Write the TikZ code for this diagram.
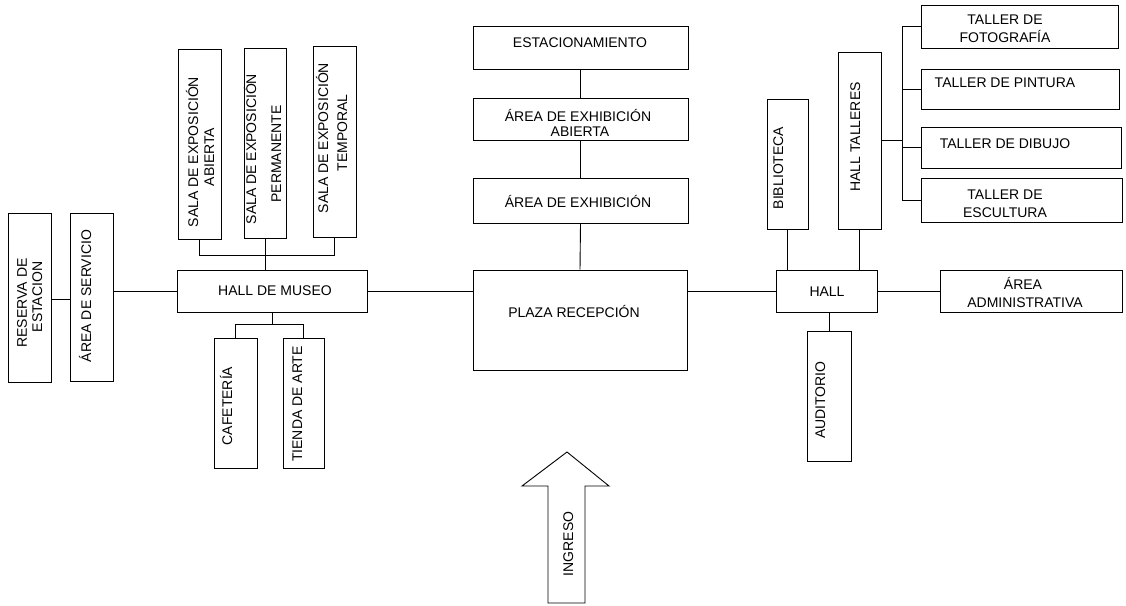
\documentclass[tikz,border=0pt]{standalone}
\usepackage{fontspec}
\setmainfont{Liberation Sans}
\begin{document}
\begin{tikzpicture}[x=1pt,y=-1pt,
  line width=0.9pt,
  box/.style={draw,rectangle,inner sep=0pt,line width=0.9pt},
  txt/.style={inner sep=0pt,text height=10pt,text depth=0pt,font=\fontsize{14}{16}\selectfont},
  vtxt/.style={txt,rotate=90}]
\useasboundingbox (0,0) rectangle (1126,605);
% boxes
\node[box,minimum width=43pt,minimum height=169pt] (res) at (29.5,297.5) {};
\node[box,minimum width=43pt,minimum height=168pt] (serv) at (91.5,297) {};
\node[box,minimum width=43pt,minimum height=190pt] (sala1) at (199.5,144) {};
\node[box,minimum width=42pt,minimum height=190pt] (sala2) at (265,143) {};
\node[box,minimum width=43pt,minimum height=191pt] (sala3) at (334.5,141.5) {};
\node[box,minimum width=190pt,minimum height=42pt] (hmus) at (272,291) {};
\node[box,minimum width=43pt,minimum height=130pt] (caf) at (235.5,403) {};
\node[box,minimum width=41pt,minimum height=130pt] (tie) at (303.5,403) {};
\node[box,minimum width=215pt,minimum height=43pt] (est) at (580.5,47.5) {};
\node[box,minimum width=215pt,minimum height=42pt] (aea) at (580.5,119) {};
\node[box,minimum width=215pt,minimum height=45pt] (ae) at (580.5,200.5) {};
\node[box,minimum width=214pt,minimum height=100pt] (plaza) at (580,320) {};
\node[box,minimum width=101pt,minimum height=42pt] (hall) at (826.5,291) {};
\node[box,minimum width=182pt,minimum height=42pt] (adm) at (1031,291) {};
\node[box,minimum width=44pt,minimum height=130pt] (aud) at (829,396) {};
\node[box,minimum width=41pt,minimum height=130pt] (bib) at (787.5,164) {};
\node[box,minimum width=43pt,minimum height=177pt] (ht) at (859.5,140.5) {};
\node[box,minimum width=197pt,minimum height=43pt] (t1) at (1019.5,26.5) {};
\node[box,minimum width=198pt,minimum height=40pt] (t2) at (1020,89) {};
\node[box,minimum width=200pt,minimum height=41pt] (t3) at (1021,147.5) {};
\node[box,minimum width=201pt,minimum height=44pt] (t4) at (1021.5,200) {};
% texts
\node[vtxt] (lres1) at (22,303) {RESERVA DE};
\node[vtxt] (lres2) at (37,297) {ESTACION};
\node[vtxt] (lserv) at (86,296) {ÁREA DE SERVICIO};
\node[vtxt] (ls11) at (193,152) {SALA DE EXPOSICIÓN};
\node[vtxt] (ls12) at (209,157) {ABIERTA};
\node[vtxt] (ls21) at (251,149) {SALA DE EXPOSICIÓN};
\node[vtxt] (ls22) at (276,154) {PERMANENTE};
\node[vtxt] (ls31) at (323,138) {SALA DE EXPOSICIÓN};
\node[vtxt] (ls32) at (342,133) {TEMPORAL};
\node[txt] (lhmus) at (275,290) {HALL DE MUSEO};
\node[vtxt] (lcaf) at (227,406) {CAFETERÍA};
\node[vtxt] (ltie) at (297,404) {TIENDA DE ARTE};
\node[txt] (lest) at (580,42) {ESTACIONAMIENTO};
\node[txt] (laea1) at (578,116) {ÁREA DE EXHIBICIÓN};
\node[txt] (laea2) at (580,131) {ABIERTA};
\node[txt] (lae) at (578,202) {ÁREA DE EXHIBICIÓN};
\node[txt] (lplaza) at (574,312) {PLAZA RECEPCIÓN};
\node[txt] (lhall) at (827,291) {HALL};
\node[txt] (ladm1) at (1023,284) {ÁREA};
\node[txt] (ladm2) at (1025,302) {ADMINISTRATIVA};
\node[vtxt] (laud) at (820,400) {AUDITORIO};
\node[vtxt] (lbib) at (778,168) {BIBLIOTECA};
\node[vtxt] (lht) at (855,137) {HALL TALLERES};
\node[txt] (lt11) at (1005,19) {TALLER DE};
\node[txt] (lt12) at (1005,37) {FOTOGRAFÍA};
\node[txt] (lt2) at (1005,82) {TALLER DE PINTURA};
\node[txt] (lt3) at (1005,143) {TALLER DE DIBUJO};
\node[txt] (lt41) at (1005,194) {TALLER DE};
\node[txt] (lt42) at (1005,212) {ESCULTURA};
% arrow
\draw (567,452) -- (609,486) -- (585,486) -- (585,603) -- (548,603) -- (548,486) -- (522,486) -- cycle;
\node[vtxt] (ling) at (568,544) {INGRESO};
% connectors
\draw (res.east |- 0,299) -- (serv.west |- 0,299);
\draw (serv.east |- hmus.west) -- (hmus.west);
\draw (sala1.south) -- ++(0,16) coordinate (sb) -| (sala3.south);
\draw (sala2.south) -- (sala2.south |- hmus.north);
\draw (hmus.south) -- ++(0,12) coordinate (cb);
\draw (caf.north) |- (cb) -| (tie.north);
\draw (hmus.east) -- (plaza.west |- hmus.east);
\draw (est.south) -- (aea.north);
\draw (aea.south) -- (ae.north);
\draw (ae.south) -- (plaza.north);
\draw (plaza.east |- hall.west) -- (hall.west);
\draw (hall.east) -- (adm.west);
\draw (aud.north |- hall.south) -- (aud.north);
\draw (bib.south) -- (bib.south |- hall.north);
\draw (ht.south) -- (ht.south |- hall.north);
\draw (ht.east) -- ++(22,0) coordinate (tb);
\draw (t1.west) -- ++(-18,0) coordinate (tb1) -- (tb1 |- t4.west) -- (t4.west);
\draw (t2.west) -- (tb1 |- t2.west);
\draw (t3.west) -- (tb1 |- t3.west);
\end{tikzpicture}
\end{document}
